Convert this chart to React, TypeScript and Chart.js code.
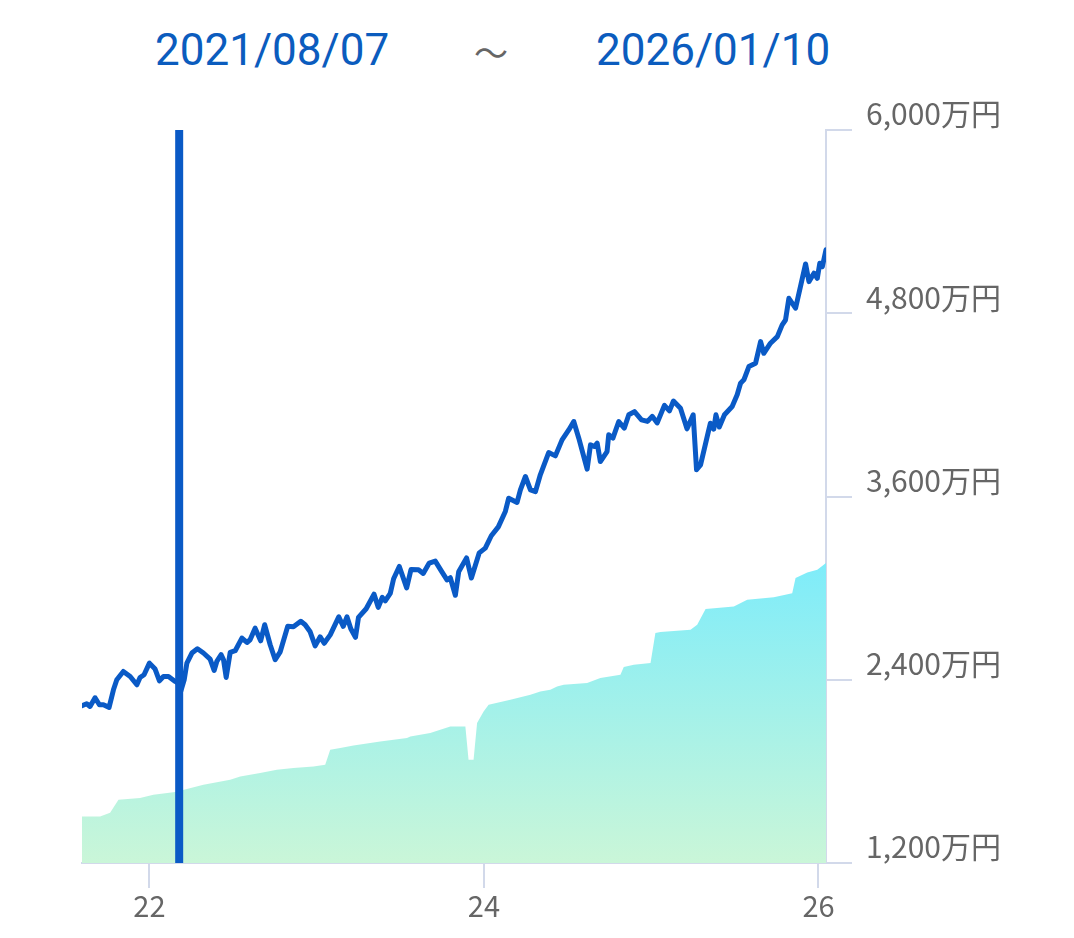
import React, { useEffect, useRef } from 'react';
import { Chart, registerables } from 'chart.js';

Chart.register(...registerables);

const startLabel = '2021/08/07';
const endLabel = '2026/01/10';
const separatorLabel = '～';
const yTickValues = [1200, 2400, 3600, 4800, 6000];
const xTickYears = [2022, 2024, 2026];
const markerYear = 2022.178;

// valuation (blue line), x = decimal year, y = 万円
const valueYears = [
  2021.597, 2021.625, 2021.645, 2021.675, 2021.701, 2021.725, 2021.759, 2021.785, 2021.805, 2021.844,
  2021.885, 2021.925, 2021.944, 2021.968, 2022.0, 2022.034, 2022.06, 2022.084, 2022.114, 2022.154,
  2022.178, 2022.187, 2022.208, 2022.224, 2022.254, 2022.287, 2022.323, 2022.363, 2022.387, 2022.403,
  2022.429, 2022.443, 2022.459, 2022.483, 2022.513, 2022.553, 2022.583, 2022.602, 2022.632, 2022.665,
  2022.689, 2022.722, 2022.752, 2022.782, 2022.827, 2022.861, 2022.905, 2022.931, 2022.961, 2022.991,
  2023.021, 2023.045, 2023.081, 2023.132, 2023.159, 2023.181, 2023.204, 2023.232, 2023.25, 2023.296,
  2023.343, 2023.368, 2023.392, 2023.41, 2023.44, 2023.46, 2023.494, 2023.538, 2023.564, 2023.609,
  2023.637, 2023.673, 2023.709, 2023.745, 2023.779, 2023.799, 2023.829, 2023.849, 2023.896, 2023.925,
  2023.972, 2024.008, 2024.044, 2024.086, 2024.128, 2024.148, 2024.198, 2024.218, 2024.248, 2024.278,
  2024.308, 2024.337, 2024.387, 2024.427, 2024.467, 2024.507, 2024.537, 2024.567, 2024.617, 2024.637,
  2024.66, 2024.677, 2024.696, 2024.736, 2024.746, 2024.771, 2024.806, 2024.839, 2024.866, 2024.9,
  2024.942, 2024.978, 2025.006, 2025.036, 2025.079, 2025.109, 2025.133, 2025.175, 2025.214, 2025.251,
  2025.271, 2025.295, 2025.34, 2025.354, 2025.374, 2025.387, 2025.407, 2025.438, 2025.484, 2025.514,
  2025.534, 2025.554, 2025.584, 2025.624, 2025.654, 2025.673, 2025.713, 2025.754, 2025.783, 2025.803,
  2025.823, 2025.863, 2025.923, 2025.943, 2025.973, 2025.993, 2026.008, 2026.023, 2026.045,
];
const valueAmounts = [
  2230, 2243, 2225, 2282, 2236, 2236, 2219, 2334, 2400, 2454,
  2421, 2367, 2415, 2433, 2509, 2470, 2393, 2421, 2421, 2389,
  2374, 2323, 2400, 2509, 2575, 2603, 2575, 2535, 2461, 2520,
  2564, 2531, 2415, 2579, 2590, 2673, 2644, 2662, 2738, 2655,
  2760, 2629, 2531, 2583, 2750, 2747, 2783, 2760, 2714, 2622,
  2681, 2639, 2694, 2812, 2750, 2812, 2734, 2678, 2808, 2865,
  2960, 2874, 2939, 2917, 2966, 3061, 3142, 3002, 3122, 3120,
  3096, 3164, 3177, 3113, 3054, 3068, 2953, 3107, 3198, 3066,
  3231, 3262, 3343, 3401, 3502, 3589, 3561, 3644, 3731, 3644,
  3632, 3742, 3888, 3866, 3971, 4036, 4091, 3982, 3779, 3938,
  3927, 3949, 3829, 3894, 4004, 3982, 4091, 4048, 4135, 4156,
  4102, 4092, 4125, 4082, 4197, 4161, 4225, 4178, 4043, 4135,
  3775, 3807, 4017, 4080, 4041, 4135, 4055, 4135, 4189, 4266,
  4342, 4364, 4451, 4473, 4614, 4538, 4604, 4647, 4724, 4756,
  4898, 4833, 5123, 5007, 5062, 5029, 5128, 5105, 5215,
];

// principal (filled area)
const costYears = [
  2021.597, 2021.705, 2021.765, 2021.815, 2021.944, 2022.024, 2022.154, 2022.224, 2022.323, 2022.483,
  2022.543, 2022.662, 2022.762, 2022.861, 2022.981, 2023.051, 2023.081, 2023.141, 2023.22, 2023.38,
  2023.54, 2023.56, 2023.679, 2023.799, 2023.889, 2023.908, 2023.938, 2023.959, 2023.998, 2024.028,
  2024.158, 2024.278, 2024.337, 2024.397, 2024.437, 2024.477, 2024.617, 2024.696, 2024.816, 2024.836,
  2024.896, 2024.996, 2025.025, 2025.055, 2025.235, 2025.275, 2025.325, 2025.494, 2025.574, 2025.733,
  2025.843, 2025.863, 2025.933, 2025.993, 2026.045,
];
const costAmounts = [
  1505, 1505, 1529, 1614, 1626, 1647, 1665, 1684, 1713, 1745,
  1767, 1789, 1811, 1822, 1832, 1843, 1942, 1953, 1970, 1996,
  2018, 2029, 2051, 2094, 2094, 1876, 1876, 2116, 2192, 2236,
  2269, 2302, 2323, 2334, 2356, 2367, 2378, 2411, 2433, 2483,
  2498, 2509, 2706, 2712, 2727, 2760, 2863, 2880, 2924, 2941,
  2967, 3066, 3102, 3120, 3164,
];

const W = 1074;
const H = 938;

export default function App() {
  const canvasRef = useRef<HTMLCanvasElement | null>(null);

  useEffect(() => {
    const canvas = canvasRef.current;
    if (!canvas) return;
    const axisColor = '#d2d9ea';
    const family = '"Noto Sans CJK JP", "Noto Sans", sans-serif';

    const chart = new Chart(canvas, {
      type: 'line',
      data: {
        datasets: [
          {
            label: 'marker',
            data: [
              { x: markerYear, y: yTickValues[0] },
              { x: markerYear, y: yTickValues[yTickValues.length - 1] },
            ],
            borderColor: '#0a5ac6',
            borderWidth: 8,
            borderCapStyle: 'butt',
            pointRadius: 0,
            order: 0,
          },
          {
            label: 'value',
            data: valueYears.map((x, i) => ({ x, y: valueAmounts[i] })),
            borderColor: '#0a5ac6',
            borderWidth: 5,
            borderJoinStyle: 'round',
            borderCapStyle: 'round',
            pointRadius: 0,
            tension: 0,
            fill: false,
            order: 1,
          },
          {
            label: 'cost',
            data: costYears.map((x, i) => ({ x, y: costAmounts[i] })),
            borderWidth: 0,
            pointRadius: 0,
            tension: 0,
            fill: 'start',
            backgroundColor: (ctx: any) => {
              const c = ctx.chart;
              const area = c.chartArea;
              if (!area) return 'rgba(160,240,230,1)';
              const g = c.ctx.createLinearGradient(0, area.top + (area.bottom - area.top) * 0.59, 0, area.bottom);
              g.addColorStop(0, 'rgb(126,236,250)');
              g.addColorStop(1, 'rgb(202,246,216)');
              return g;
            },
            order: 2,
          },
        ],
      },
      options: {
        responsive: false,
        maintainAspectRatio: false,
        animation: false,
        layout: { padding: { left: 82, top: 130, right: 0, bottom: 0 } },
        plugins: {
          legend: { display: false },
          tooltip: { enabled: false },
          title: { display: false },
        },
        scales: {
          x: {
            type: 'linear',
            min: valueYears[0],
            max: valueYears[valueYears.length - 1],
            afterBuildTicks: (scale: any) => {
              scale.ticks = xTickYears.map((v) => ({ value: v }));
            },
            afterFit: (scale: any) => {
              scale.height = H - 863;
            },
            border: { display: true, color: axisColor, width: 2 },
            grid: {
              drawOnChartArea: false,
              drawTicks: true,
              tickLength: 25,
              color: axisColor,
              lineWidth: 2,
            },
            ticks: {
              color: '#666666',
              font: { family, size: 29 },
              padding: 1,
              maxRotation: 0,
              autoSkip: false,
              callback: (v: any) => String(Math.round(Number(v)) % 100).padStart(2, '0'),
            },
          },
          y: {
            type: 'linear',
            position: 'right',
            min: yTickValues[0],
            max: yTickValues[yTickValues.length - 1],
            afterBuildTicks: (scale: any) => {
              scale.ticks = yTickValues.map((v) => ({ value: v }));
            },
            afterFit: (scale: any) => {
              scale.width = W - 826;
            },
            border: { display: true, color: axisColor, width: 2 },
            grid: {
              drawOnChartArea: false,
              drawTicks: true,
              tickLength: 26,
              color: axisColor,
              lineWidth: 2,
            },
            ticks: {
              color: '#666666',
              font: { family, size: 30 },
              padding: 14,
              labelOffset: -16,
              autoSkip: false,
              callback: (v: any) => Number(v).toLocaleString('en-US') + '万円',
            },
          },
        },
      },
    });
    return () => chart.destroy();
  }, []);

  const titleStyle: React.CSSProperties = {
    position: 'absolute',
    top: 28,
    fontFamily: 'Roboto, "Noto Sans", sans-serif',
    fontSize: 44,
    lineHeight: '44px',
    color: '#0b5cbe',
    whiteSpace: 'nowrap',
  };

  return (
    <div style={{ position: 'absolute', left: 0, top: 0, width: W, height: H, background: '#fff' }}>
      <span style={{ ...titleStyle, left: 155 }}>{startLabel}</span>
      <span
        style={{
          ...titleStyle,
          left: 474,
          top: 30,
          fontFamily: '"Noto Sans CJK JP", sans-serif',
          fontSize: 34,
          color: '#666666',
        }}
      >
        {separatorLabel}
      </span>
      <span style={{ ...titleStyle, left: 596 }}>{endLabel}</span>
      <canvas ref={canvasRef} width={W} height={H} style={{ position: 'absolute', left: 0, top: 0, display: 'block' }} />
    </div>
  );
}
